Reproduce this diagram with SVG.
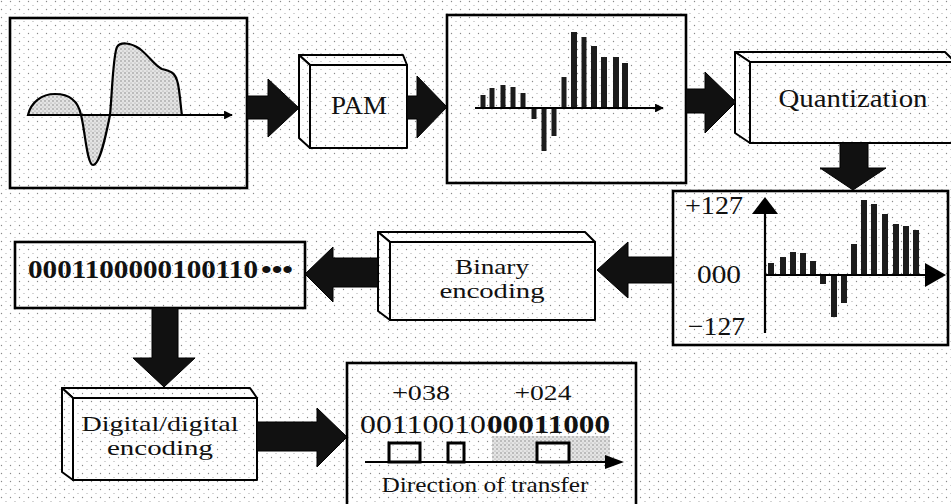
<svg xmlns="http://www.w3.org/2000/svg" width="951" height="504" viewBox="0 0 951 504">
<defs>
<pattern id="dots" width="9" height="8" patternUnits="userSpaceOnUse">
<rect width="9" height="8" fill="#ffffff"/>
<circle cx="1.5" cy="1.5" r="0.7" fill="#8a8a8a"/>
<circle cx="6" cy="5.5" r="0.6" fill="#a0a0a0"/>
</pattern>
<pattern id="dense" width="4" height="4" patternUnits="userSpaceOnUse">
<rect width="4" height="4" fill="#e4e4e4"/>
<circle cx="1" cy="1" r="0.7" fill="#777"/>
<circle cx="3" cy="3" r="0.6" fill="#999"/>
</pattern>
<marker id="ah" viewBox="0 0 10 10" refX="9" refY="5" markerWidth="5" markerHeight="4" orient="auto" markerUnits="strokeWidth">
<path d="M0,0 L10,5 L0,10 Z" fill="#000"/>
</marker>
</defs>
<style>
.box{fill:none;stroke:#000;stroke-width:2.6}
.face{fill:url(#dots);stroke:#000;stroke-width:2;stroke-linejoin:round}
.axis{stroke:#000;stroke-width:2.2;fill:none}
.bar{fill:#1c1c1c}
.arrow{fill:#111;stroke:#000;stroke-width:1}
.t{font-family:"Liberation Serif","Times New Roman",serif;fill:#111}
</style>
<rect x="0" y="0" width="951" height="504" fill="url(#dots)"/>

<g id="analog-signal">
<rect class="box" x="10" y="18" width="237" height="170"/>
<path d="M28,115 C31,102 42,94 55,94 C68,94 78,100 81,115 Z" fill="url(#dense)" stroke="#000" stroke-width="2.2"/>
<path d="M81,115 C85,130 87,165 93,165 C100,165 106,135 110,115 Z" fill="url(#dense)" stroke="#000" stroke-width="2.2"/>
<path d="M110,115 C112,95 113,55 117,47 C120,42 130,42 140,49 C150,57 155,66 162,69 C172,71 177,73 179,90 C181,105 181,110 182,115 Z" fill="url(#dense)" stroke="#000" stroke-width="2.2"/>
<line class="axis" x1="28" y1="115" x2="232" y2="115" marker-end="url(#ah)"/>
</g>

<g id="pam">
<polygon class="face" points="299,55 403,55 407,65 310,65"/>
<polygon class="face" points="299,55 310,65 310,148 299,138"/>
<rect class="face" x="310" y="65" width="97" height="83"/>
<text class="t" x="359" y="114" font-size="26" text-anchor="middle" textLength="56" lengthAdjust="spacingAndGlyphs">PAM</text>
</g>

<g id="pam-signal">
<rect class="box" x="447" y="15" width="239" height="168"/>
<rect class="bar" x="480.5" y="95" width="5" height="13"/>
<rect class="bar" x="489.5" y="88" width="5" height="20"/>
<rect class="bar" x="500.5" y="85" width="5" height="23"/>
<rect class="bar" x="510.5" y="87" width="5" height="21"/>
<rect class="bar" x="520.5" y="93" width="5" height="15"/>
<rect class="bar" x="531.5" y="108" width="5" height="11"/>
<rect class="bar" x="541.5" y="108" width="5" height="43"/>
<rect class="bar" x="551.5" y="108" width="5" height="28"/>
<rect class="bar" x="561.5" y="77" width="5" height="31"/>
<rect class="bar" x="571" y="32" width="6" height="76"/>
<rect class="bar" x="581.5" y="37" width="5" height="71"/>
<rect class="bar" x="591" y="46" width="6" height="62"/>
<rect class="bar" x="601" y="57" width="6" height="51"/>
<rect class="bar" x="613" y="57" width="6" height="51"/>
<rect class="bar" x="622" y="63" width="6" height="45"/>
<line class="axis" x1="475" y1="108" x2="663" y2="108" marker-end="url(#ah)"/>
</g>

<g id="quantization">
<polygon class="face" points="735,52 945,52 955,62 750,62"/>
<polygon class="face" points="735,52 750,62 750,143 735,133"/>
<rect class="face" x="750" y="62" width="210" height="81"/>
<text class="t" x="853" y="107" font-size="25" text-anchor="middle" textLength="149" lengthAdjust="spacingAndGlyphs">Quantization</text>
</g>

<g id="quantized-signal">
<rect class="box" x="673" y="191" width="275" height="154"/>
<text class="t" x="685" y="214" font-size="26" textLength="58" lengthAdjust="spacingAndGlyphs">+127</text>
<text class="t" x="697" y="283" font-size="26" textLength="44" lengthAdjust="spacingAndGlyphs">000</text>
<text class="t" x="688" y="335" font-size="26" textLength="57" lengthAdjust="spacingAndGlyphs">−127</text>
<rect class="bar" x="768" y="263" width="6" height="12"/>
<rect class="bar" x="780" y="257" width="6" height="18"/>
<rect class="bar" x="790" y="252" width="6" height="23"/>
<rect class="bar" x="800" y="253" width="6" height="22"/>
<rect class="bar" x="810" y="261" width="6" height="14"/>
<rect class="bar" x="820" y="275" width="6" height="9"/>
<rect class="bar" x="831" y="275" width="6" height="42"/>
<rect class="bar" x="841" y="275" width="6" height="28"/>
<rect class="bar" x="851" y="244" width="6" height="31"/>
<rect class="bar" x="861" y="200" width="6" height="75"/>
<rect class="bar" x="871" y="204" width="6" height="71"/>
<rect class="bar" x="882" y="214" width="6" height="61"/>
<rect class="bar" x="893" y="224" width="6" height="51"/>
<rect class="bar" x="903" y="226" width="6" height="49"/>
<rect class="bar" x="913" y="230" width="6" height="45"/>
<line class="axis" x1="765" y1="333" x2="765" y2="212"/>
<polygon points="765,197 752,214 778,214" fill="#000"/>
<line class="axis" x1="765" y1="275" x2="926" y2="275"/>
<polygon points="946,275 925,263 925,287" fill="#000"/>
</g>

<g id="binary-encoding">
<polygon class="face" points="378,232 585,232 595,242 390,242"/>
<polygon class="face" points="378,232 390,242 390,320 378,311"/>
<rect class="face" x="390" y="242" width="205" height="78"/>
<text class="t" x="492" y="274" font-size="21" text-anchor="middle" textLength="74" lengthAdjust="spacingAndGlyphs">Binary</text>
<text class="t" x="492" y="298" font-size="21" text-anchor="middle" textLength="105" lengthAdjust="spacingAndGlyphs">encoding</text>
</g>

<g id="binary-stream">
<rect class="box" x="15" y="242" width="290" height="66"/>
<text class="t" x="28" y="278" font-size="26" font-weight="bold" textLength="230" lengthAdjust="spacingAndGlyphs">0001100000100110</text>
<text class="t" x="261" y="278" font-size="26" font-weight="bold" textLength="32" lengthAdjust="spacingAndGlyphs">•••</text>
</g>

<g id="digital-encoding">
<polygon class="face" points="62,388 250,388 257,398 73,398"/>
<polygon class="face" points="62,388 73,398 73,480 62,472"/>
<rect class="face" x="73" y="398" width="184" height="82"/>
<text class="t" x="160" y="431" font-size="21" text-anchor="middle" textLength="157" lengthAdjust="spacingAndGlyphs">Digital/digital</text>
<text class="t" x="160" y="455" font-size="21" text-anchor="middle" textLength="106" lengthAdjust="spacingAndGlyphs">encoding</text>
</g>

<g id="digital-signal">
<rect class="box" x="347" y="363" width="289" height="150"/>
<text class="t" x="421" y="400" font-size="22" text-anchor="middle" textLength="58" lengthAdjust="spacingAndGlyphs">+038</text>
<text class="t" x="543" y="400" font-size="22" text-anchor="middle" textLength="57" lengthAdjust="spacingAndGlyphs">+024</text>
<text class="t" x="360" y="433" font-size="25" textLength="126" lengthAdjust="spacingAndGlyphs">00110010</text>
<text class="t" x="487" y="433" font-size="25" font-weight="bold" textLength="123" lengthAdjust="spacingAndGlyphs">00011000</text>
<rect x="492" y="436" width="118" height="26" fill="url(#dense)"/>
<rect x="389" y="443" width="31" height="19" fill="url(#dots)" stroke="#000" stroke-width="3"/>
<rect x="448" y="443" width="16" height="19" fill="url(#dots)" stroke="#000" stroke-width="3"/>
<rect x="537" y="443" width="32" height="19" fill="url(#dots)" stroke="#000" stroke-width="3"/>
<line class="axis" x1="365" y1="462" x2="612" y2="462"/>
<polygon points="624,462 605,455 605,469" fill="#000"/>
<text class="t" x="485" y="492" font-size="22" text-anchor="middle" textLength="207" lengthAdjust="spacingAndGlyphs">Direction of transfer</text>
</g>

<g id="connectors">
<polygon class="arrow" points="247,96 268,96 268,79 299,108 268,137 268,119 247,119"/>
<polygon class="arrow" points="407,96 417,96 417,76 447,107 417,138 417,119 407,119"/>
<polygon class="arrow" points="686,89 705,89 705,72 736,102 705,133 705,113 686,113"/>
<polygon class="arrow" points="840,143 868,143 868,168 886,168 853,190 820,168 840,168"/>
<polygon class="arrow" points="673,257 628,257 628,242 597,270 628,298 628,283 673,283"/>
<polygon class="arrow" points="378,258 333,258 333,247 305,274 333,302 333,287 378,287"/>
<polygon class="arrow" points="152,308 178,308 178,358 195,358 164,387 133,358 152,358"/>
<polygon class="arrow" points="257,422 317,422 317,408 347,437 317,467 317,451 257,451"/>
</g>
</svg>
